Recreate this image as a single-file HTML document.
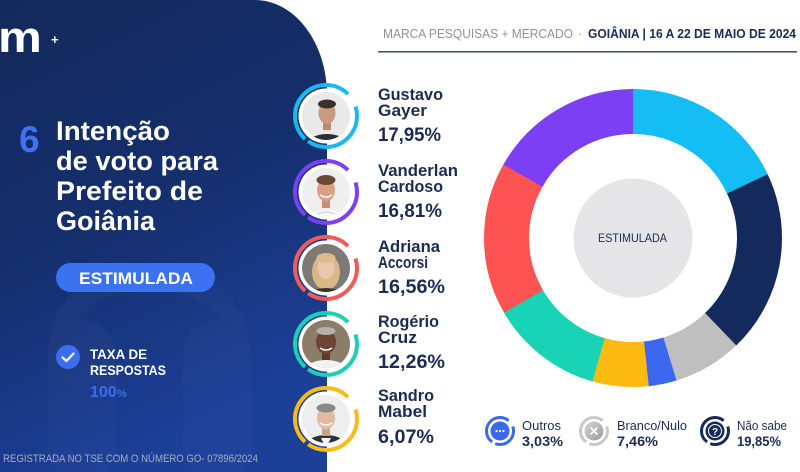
<!DOCTYPE html>
<html>
<head>
<meta charset="utf-8">
<style>
  html,body{margin:0;padding:0;background:#fff;}
  body{width:800px;height:472px;overflow:hidden;}
  svg{display:block;}
  text{font-family:"Liberation Sans", Arial, sans-serif;}
</style>
</head>
<body>
<svg width="800" height="472" viewBox="0 0 800 472" xmlns="http://www.w3.org/2000/svg">
  <defs>
    <linearGradient id="bg" x1="0" y1="0" x2="0.35" y2="1">
      <stop offset="0" stop-color="#13295b"/>
      <stop offset="0.5" stop-color="#152f6c"/>
      <stop offset="1" stop-color="#1c3f98"/>
    </linearGradient>
    <linearGradient id="greyball" x1="0" y1="0" x2="1" y2="1">
      <stop offset="0" stop-color="#d6d6d6"/>
      <stop offset="1" stop-color="#9a9a9a"/>
    </linearGradient>
    <clipPath id="c1"><circle cx="326" cy="116" r="24"/></clipPath>
    <clipPath id="c2"><circle cx="326" cy="192" r="24"/></clipPath>
    <clipPath id="c3"><circle cx="326" cy="268" r="24"/></clipPath>
    <clipPath id="c4"><circle cx="326" cy="344" r="24"/></clipPath>
    <clipPath id="c5"><circle cx="326" cy="419" r="24"/></clipPath>
  </defs>

  <rect x="0" y="0" width="800" height="472" fill="#ffffff"/>

  <!-- Left panel -->
  <path d="M0,0 H255 A72,95 0 0 1 327,95 V472 H0 Z" fill="url(#bg)"/>
  <!-- faint background shapes -->
  <g fill="#ffffff" opacity="0.02">
    <rect x="48" y="320" width="68" height="160" rx="34"/>
    <rect x="183" y="320" width="68" height="160" rx="34"/>
    <path d="M48,360 Q48,270 150,270 Q250,270 250,360 L230,360 Q230,290 150,290 Q68,290 68,360 Z"/>
  </g>

  <!-- Logo -->
  <text x="0" y="52" font-size="44" font-weight="bold" fill="#ffffff" transform="translate(-2 0) scale(1.12 1)">m</text>
  <text x="51" y="44" font-size="13" font-weight="bold" fill="#ffffff">+</text>

  <!-- Title -->
  <text x="19" y="152" font-size="37" font-weight="bold" fill="#3d72f2">6</text>
  <g font-size="27" font-weight="bold" fill="#ffffff">
    <text x="56" y="140" textLength="114" lengthAdjust="spacingAndGlyphs">Intenção</text>
    <text x="56" y="170" textLength="162" lengthAdjust="spacingAndGlyphs">de voto para</text>
    <text x="56" y="200" textLength="147" lengthAdjust="spacingAndGlyphs">Prefeito de</text>
    <text x="56" y="230" textLength="99" lengthAdjust="spacingAndGlyphs">Goiânia</text>
  </g>

  <!-- ESTIMULADA pill -->
  <rect x="56" y="263" width="159" height="29" rx="14.5" fill="#3b72ef"/>
  <text x="79" y="284" font-size="17" font-weight="bold" fill="#ffffff" textLength="114" lengthAdjust="spacingAndGlyphs">ESTIMULADA</text>

  <!-- Taxa de respostas -->
  <circle cx="68" cy="357" r="12" fill="#3b6ef0"/>
  <path d="M62.5,357.5 L66.5,361 L73.5,353.5" fill="none" stroke="#ffffff" stroke-width="2.2" stroke-linecap="round" stroke-linejoin="round"/>
  <text x="90" y="359" font-size="13.5" font-weight="bold" fill="#ffffff" textLength="57" lengthAdjust="spacingAndGlyphs">TAXA DE</text>
  <text x="90" y="375" font-size="13.5" font-weight="bold" fill="#ffffff" textLength="76" lengthAdjust="spacingAndGlyphs">RESPOSTAS</text>
  <text x="90" y="397" font-size="16" font-weight="bold" fill="#3a6df0">100<tspan font-size="11">%</tspan></text>

  <!-- Footer -->
  <text x="3" y="462" font-size="11" fill="#a4acc0" textLength="255" lengthAdjust="spacingAndGlyphs">REGISTRADA NO TSE COM O NÚMERO GO- 07896/2024</text>

  <!-- Header -->
  <text x="383" y="38" font-size="12.5" fill="#8d929b" textLength="190" lengthAdjust="spacingAndGlyphs">MARCA PESQUISAS + MERCADO</text>
  <text x="578" y="38" font-size="12.5" fill="#8d929b">·</text>
  <text x="588" y="38" font-size="12.5" font-weight="bold" fill="#1b2b52" textLength="208" lengthAdjust="spacingAndGlyphs">GOIÂNIA | 16 A 22 DE MAIO DE 2024</text>
  <rect x="378" y="51" width="419" height="1.6" fill="#4f545e"/>

  <!-- Candidate rings -->
  <g fill="none" stroke-width="4" stroke-dasharray="24.35 14.6 77.37 3.79 74.67 0">
    <circle cx="326" cy="116" r="31" stroke="#1db8ef" transform="rotate(-90 326 116)"/>
    <circle cx="326" cy="192" r="31" stroke="#7c3ff3" transform="rotate(-90 326 192)"/>
    <circle cx="326" cy="268" r="31" stroke="#f25a5a" transform="rotate(-90 326 268)"/>
    <circle cx="326" cy="344" r="31" stroke="#1dcfb5" transform="rotate(-90 326 344)"/>
    <circle cx="326" cy="419" r="31" stroke="#f7bc1c" transform="rotate(-90 326 419)"/>
  </g>
  <g fill="#ffffff">
    <circle cx="326" cy="116" r="27.5"/>
    <circle cx="326" cy="192" r="27.5"/>
    <circle cx="326" cy="268" r="27.5"/>
    <circle cx="326" cy="344" r="27.5"/>
    <circle cx="326" cy="419" r="27.5"/>
  </g>

  <!-- Gustavo photo -->
  <g clip-path="url(#c1)">
    <rect x="300" y="90" width="52" height="52" fill="#e9e9ea"/>
    <ellipse cx="327" cy="146" rx="21" ry="12" fill="#2a2e37"/>
    <rect x="323" y="118" width="8" height="12" fill="#b98a6e"/>
    <ellipse cx="327" cy="113" rx="8.5" ry="11" fill="#c99b7f"/>
    <ellipse cx="327" cy="104" rx="9" ry="4.5" fill="#3a2f2a"/>
  </g>
  <!-- Vanderlan photo -->
  <g clip-path="url(#c2)">
    <rect x="300" y="166" width="52" height="52" fill="#efefef"/>
    <ellipse cx="326" cy="222" rx="22" ry="12" fill="#f7f7f7"/>
    <path d="M312,218 Q326,206 340,218" fill="none" stroke="#d8d8d8" stroke-width="1.5"/>
    <rect x="322" y="196" width="8" height="12" fill="#c98e70"/>
    <ellipse cx="326" cy="190" rx="9" ry="11.5" fill="#d9a183"/>
    <ellipse cx="326" cy="180" rx="9.5" ry="5" fill="#6b4a32"/>
    <path d="M320,195 Q326,199 332,195" fill="none" stroke="#ffffff" stroke-width="1.5"/>
  </g>
  <!-- Adriana photo -->
  <g clip-path="url(#c3)">
    <rect x="300" y="242" width="52" height="52" fill="#7d7a76"/>
    <ellipse cx="326" cy="272" rx="14" ry="18" fill="#d8b888"/>
    <ellipse cx="326" cy="298" rx="20" ry="10" fill="#3b3530"/>
    <ellipse cx="326" cy="268" rx="8.5" ry="11" fill="#ecc6ab"/>
    <ellipse cx="326" cy="258" rx="9.5" ry="5" fill="#dcbc8c"/>
  </g>
  <!-- Rogério photo -->
  <g clip-path="url(#c4)">
    <rect x="300" y="318" width="52" height="52" fill="#8c7c6a"/>
    <ellipse cx="326" cy="372" rx="22" ry="12" fill="#f2f2f2"/>
    <rect x="322" y="346" width="8" height="14" fill="#5e3a2c"/>
    <ellipse cx="326" cy="342" rx="10" ry="12" fill="#704434"/>
    <ellipse cx="326" cy="331" rx="9.5" ry="4" fill="#b4b0aa"/>
    <path d="M320,348 Q326,352 332,348" fill="none" stroke="#ffffff" stroke-width="1.5"/>
  </g>
  <!-- Sandro photo -->
  <g clip-path="url(#c5)">
    <rect x="300" y="393" width="52" height="52" fill="#eeeeee"/>
    <ellipse cx="326" cy="448" rx="22" ry="13" fill="#2b303a"/>
    <path d="M321,438 L326,448 L331,438 Z" fill="#f5f5f5"/>
    <rect x="322" y="422" width="8" height="14" fill="#caa08a"/>
    <ellipse cx="326" cy="418" rx="9" ry="11.5" fill="#e2baa2"/>
    <ellipse cx="326" cy="408" rx="9.5" ry="4.5" fill="#8a8a8a"/>
    <path d="M320,423 Q326,427 332,423" fill="none" stroke="#ffffff" stroke-width="1.5"/>
  </g>

  <!-- Candidate text -->
  <g fill="#1b2b52" font-weight="bold">
    <text x="378" y="100" font-size="16.5" textLength="65" lengthAdjust="spacingAndGlyphs">Gustavo</text>
    <text x="378" y="116" font-size="16.5" textLength="49" lengthAdjust="spacingAndGlyphs">Gayer</text>
    <text x="378" y="141" font-size="19.5" textLength="63" lengthAdjust="spacingAndGlyphs">17,95%</text>

    <text x="378" y="176" font-size="16.5" textLength="80" lengthAdjust="spacingAndGlyphs">Vanderlan</text>
    <text x="378" y="192" font-size="16.5" textLength="65" lengthAdjust="spacingAndGlyphs">Cardoso</text>
    <text x="378" y="217" font-size="19.5" textLength="64" lengthAdjust="spacingAndGlyphs">16,81%</text>

    <text x="378" y="252" font-size="16.5" textLength="62" lengthAdjust="spacingAndGlyphs">Adriana</text>
    <text x="378" y="268" font-size="16.5" textLength="50" lengthAdjust="spacingAndGlyphs">Accorsi</text>
    <text x="378" y="293" font-size="19.5" textLength="67" lengthAdjust="spacingAndGlyphs">16,56%</text>

    <text x="378" y="327" font-size="16.5" textLength="61" lengthAdjust="spacingAndGlyphs">Rogério</text>
    <text x="378" y="343" font-size="16.5" textLength="39" lengthAdjust="spacingAndGlyphs">Cruz</text>
    <text x="378" y="368" font-size="19.5" textLength="67" lengthAdjust="spacingAndGlyphs">12,26%</text>

    <text x="378" y="401" font-size="16.5" textLength="56" lengthAdjust="spacingAndGlyphs">Sandro</text>
    <text x="378" y="417" font-size="16.5" textLength="49" lengthAdjust="spacingAndGlyphs">Mabel</text>
    <text x="378" y="443" font-size="19.5" textLength="56" lengthAdjust="spacingAndGlyphs">6,07%</text>
  </g>

  <!-- Donut -->
  <g fill="none" stroke-width="45" transform="rotate(-90 633 238)">
    <circle cx="633" cy="238" r="126.5" stroke="#14bdf3" stroke-dasharray="143.2 794.82" stroke-dashoffset="0"/>
    <circle cx="633" cy="238" r="126.5" stroke="#152a5c" stroke-dasharray="158.3 794.82" stroke-dashoffset="-142.67"/>
    <circle cx="633" cy="238" r="126.5" stroke="#bfbfbf" stroke-dasharray="59.8 794.82" stroke-dashoffset="-300.44"/>
    <circle cx="633" cy="238" r="126.5" stroke="#3b68ee" stroke-dasharray="24.6 794.82" stroke-dashoffset="-359.73"/>
    <circle cx="633" cy="238" r="126.5" stroke="#fdbb12" stroke-dasharray="48.8 794.82" stroke-dashoffset="-383.81"/>
    <circle cx="633" cy="238" r="126.5" stroke="#19d3b6" stroke-dasharray="98.0 794.82" stroke-dashoffset="-432.06"/>
    <circle cx="633" cy="238" r="126.5" stroke="#fd5353" stroke-dasharray="132.1 794.82" stroke-dashoffset="-529.50"/>
    <circle cx="633" cy="238" r="126.5" stroke="#7c3ff3" stroke-dasharray="133.7 794.82" stroke-dashoffset="-661.12"/>
  </g>
  <circle cx="633" cy="238" r="59.5" fill="#e5e5e7"/>
  <text x="598" y="242" font-size="11.5" fill="#1b2b52" textLength="69" lengthAdjust="spacingAndGlyphs">ESTIMULADA</text>

  <!-- Legend -->
  <circle cx="500" cy="431" r="13.5" fill="none" stroke="#3b68ee" stroke-width="3" stroke-dasharray="9.42 7.07 30.63 3.53 34.16 0" transform="rotate(-90 500 431)"/>
  <circle cx="500" cy="431" r="9.5" fill="#3b68ee"/>
  <circle cx="496.5" cy="431" r="1.1" fill="#fff"/>
  <circle cx="500" cy="431" r="1.1" fill="#fff"/>
  <circle cx="503.5" cy="431" r="1.1" fill="#fff"/>
  <text x="522" y="430" font-size="13" fill="#1b2b52" textLength="39" lengthAdjust="spacingAndGlyphs">Outros</text>
  <text x="522" y="446" font-size="14" font-weight="bold" fill="#1b2b52" textLength="41" lengthAdjust="spacingAndGlyphs">3,03%</text>

  <circle cx="594" cy="431" r="13.5" fill="none" stroke="#c9c9c9" stroke-width="3" stroke-dasharray="9.42 7.07 30.63 3.53 34.16 0" transform="rotate(-90 594 431)"/>
  <circle cx="594" cy="431" r="9.5" fill="url(#greyball)"/>
  <path d="M591,428 L597,434 M597,428 L591,434" stroke="#ffffff" stroke-width="1.6" stroke-linecap="round"/>
  <text x="617" y="430" font-size="13" fill="#1b2b52" textLength="70" lengthAdjust="spacingAndGlyphs">Branco/Nulo</text>
  <text x="617" y="446" font-size="14" font-weight="bold" fill="#1b2b52" textLength="41" lengthAdjust="spacingAndGlyphs">7,46%</text>

  <circle cx="715" cy="431" r="13.5" fill="none" stroke="#152a5c" stroke-width="3" stroke-dasharray="9.42 7.07 30.63 3.53 34.16 0" transform="rotate(-90 715 431)"/>
  <circle cx="715" cy="431" r="9.5" fill="#152a5c"/>
  <circle cx="715" cy="431" r="6.5" fill="none" stroke="#ffffff" stroke-width="1"/>
  <text x="715" y="435" font-size="10" font-weight="bold" fill="#ffffff" text-anchor="middle">?</text>
  <text x="737" y="430" font-size="13" fill="#1b2b52" textLength="50" lengthAdjust="spacingAndGlyphs">Não sabe</text>
  <text x="737" y="446" font-size="14" font-weight="bold" fill="#1b2b52" textLength="44" lengthAdjust="spacingAndGlyphs">19,85%</text>
</svg>
</body>
</html>
